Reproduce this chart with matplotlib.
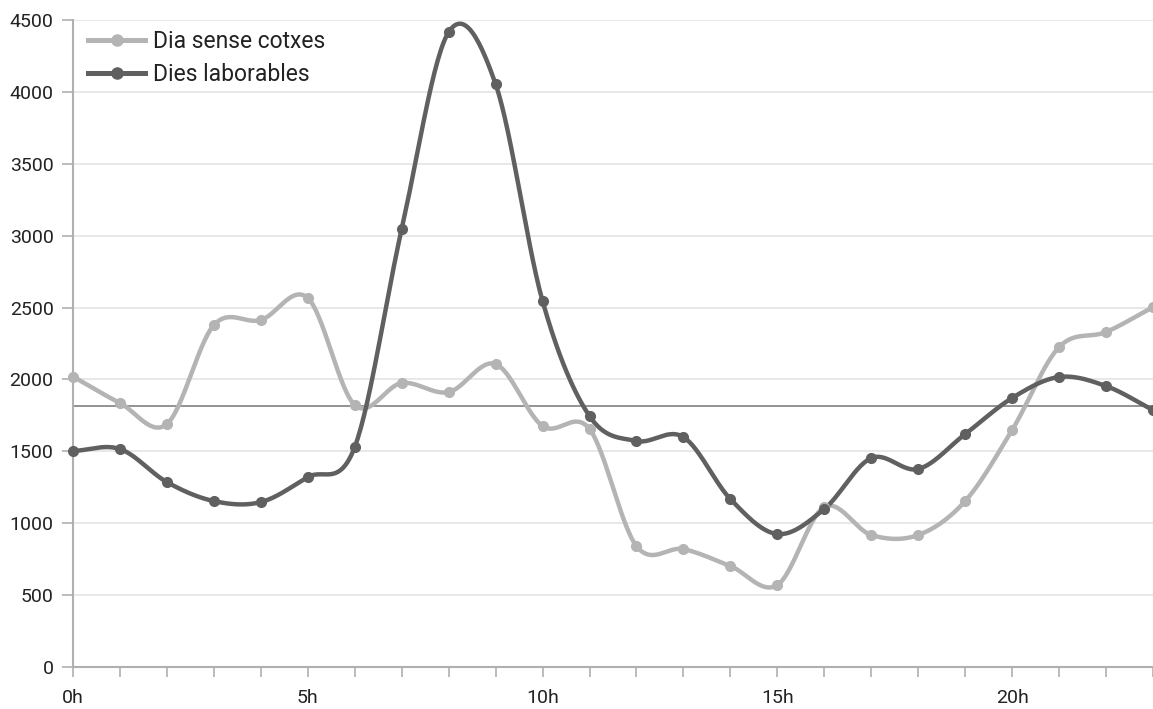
import numpy as np
import matplotlib
matplotlib.use("Agg")
import matplotlib.pyplot as plt

hours = list(range(24))
tick_labels = ["0h", "5h", "10h", "15h", "20h"]
tick_pos = [0, 5, 10, 15, 20]

sense_cotxes = [2020, 1836, 1690, 2378, 2413, 2566, 1822, 1975, 1912, 2107, 1676, 1655,
                841, 820, 702, 570, 1113, 918, 918, 1154, 1648, 2225, 2330, 2503]
laborables = [1502, 1516, 1286, 1154, 1147, 1321, 1530, 3046, 4416, 4054, 2545, 1745,
              1572, 1599, 1168, 925, 1099, 1453, 1377, 1620, 1871, 2017, 1954, 1787]
reference_line = 1815

plt.rcParams['font.family'] = ['Roboto', 'DejaVu Sans']


def smooth(x, y, n=30):
    x = np.asarray(x, float)
    y = np.asarray(y, float)
    px = np.concatenate([[2 * x[0] - x[1]], x, [2 * x[-1] - x[-2]]])
    py = np.concatenate([[2 * y[0] - y[1]], y, [2 * y[-1] - y[-2]]])
    xs, ys = [], []
    t = np.linspace(0, 1, n, endpoint=False)
    for i in range(1, len(px) - 2):
        p0, p1, p2, p3 = py[i - 1], py[i], py[i + 1], py[i + 2]
        m1 = (p2 - p0) / 2
        m2 = (p3 - p1) / 2
        h00 = 2 * t**3 - 3 * t**2 + 1
        h10 = t**3 - 2 * t**2 + t
        h01 = -2 * t**3 + 3 * t**2
        h11 = t**3 - t**2
        ys.append(h00 * p1 + h10 * m1 + h01 * p2 + h11 * m2)
        xs.append(px[i] + t * (px[i + 1] - px[i]))
    xs.append([x[-1]])
    ys.append([y[-1]])
    return np.concatenate(xs), np.concatenate(ys)


W, H = 1153, 709
fig = plt.figure(figsize=(W / 100, H / 100), dpi=100)
ax = fig.add_axes([73 / W, 42 / H, 1 - 73 / W, (667 - 20) / H])

light = "#b4b4b4"
dark = "#606060"

for vals, col, lab in [(sense_cotxes, light, "Dia sense cotxes"), (laborables, dark, "Dies laborables")]:
    sx, sy = smooth(hours, vals)
    ax.plot(sx, sy, color=col, lw=3.2, solid_capstyle='round', clip_on=False, zorder=3)
    ax.plot(hours, vals, 'o', color=col, ms=7, clip_on=False, zorder=4)
    ax.plot([], [], '-o', color=col, lw=3.6, ms=8, label=lab)

ax.axhline(reference_line, color="#808080", lw=1.2, zorder=2)

ax.set_xlim(0, 23)
ax.set_ylim(0, 4500)
ax.set_yticks(np.arange(0, 4501, 500))
ax.set_xticks(hours, minor=True)
ax.set_xticks(tick_pos)
ax.set_xticklabels(tick_labels)
ax.grid(axis='y', color="#e4e4e4", lw=1.2, zorder=0)
ax.set_axisbelow(True)
for s in ['top', 'right']:
    ax.spines[s].set_visible(False)
for s in ['left', 'bottom']:
    ax.spines[s].set_color("#b0b0b0")
    ax.spines[s].set_linewidth(1.5)
ax.tick_params(axis='y', length=8, width=1.2, color="#b0b0b0", labelsize=14, labelcolor="#222222", pad=6)
ax.tick_params(axis='x', which='both', length=7.5, width=1.2, color="#b0b0b0", labelsize=14,
               labelcolor="#222222", direction='out', pad=8)

leg = ax.legend(loc='upper left', bbox_to_anchor=(88 / W, 679 / H), bbox_transform=fig.transFigure,
                frameon=False, fontsize=16.5, handlelength=2.5, handletextpad=0.35,
                labelspacing=0.42, borderaxespad=0, borderpad=0)
for t in leg.get_texts():
    t.set_color("#222222")

fig.savefig("out.png", dpi=100)
